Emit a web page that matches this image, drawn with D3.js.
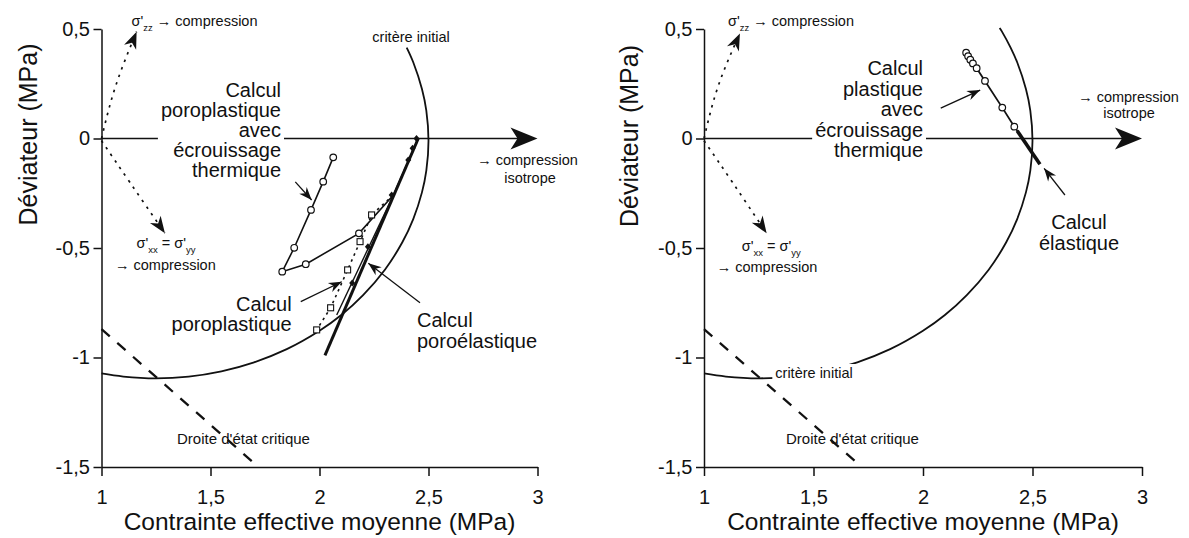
<!DOCTYPE html>
<html><head><meta charset="utf-8">
<script src="https://cdn.jsdelivr.net/npm/d3@7"></script>
<style>
html,body{margin:0;padding:0;background:#fff;}
svg{display:block;}
text{font-family:"Liberation Sans",Arial,Helvetica,sans-serif;fill:#111;}
</style></head><body>
<svg id="chart" width="1189" height="538"></svg>
<script>
// ---------------- data (MPa) ----------------
const xTicks = [1, 1.5, 2, 2.5, 3];
const xTickLabels = ["1", "1,5", "2", "2,5", "3"];
const yTicks = [-1.5, -1, -0.5, 0, 0.5];
const yTickLabels = ["-1,5", "-1", "-0,5", "0", "0,5"];

// initial yield criterion ("critère initial")
const criterionLeft = [[1.00,-1.073],[1.10,-1.087],[1.25,-1.095],[1.40,-1.087],[1.55,-1.063],[1.70,-1.022],[1.85,-0.962],[2.00,-0.878],[2.10,-0.806],[2.20,-0.715],[2.30,-0.599],[2.38,-0.474],[2.43,-0.368],[2.47,-0.246],[2.49,-0.147],[2.50,-0.01],[2.49,0.127],[2.47,0.226],[2.43,0.348],[2.40,0.415]];
const criterionRight = [[1.00,-1.073],[1.10,-1.087],[1.25,-1.095],[1.40,-1.087],[1.55,-1.063],[1.70,-1.022],[1.85,-0.962],[2.00,-0.878],[2.10,-0.806],[2.20,-0.715],[2.30,-0.599],[2.38,-0.474],[2.43,-0.368],[2.47,-0.246],[2.49,-0.147],[2.50,-0.01],[2.49,0.127],[2.47,0.226],[2.43,0.348],[2.40,0.415],[2.36,0.489],[2.35,0.505]];

// critical state line ("Droite d'état critique")
const criticalLine = [[1.00,-0.87],[1.72,-1.50]];

// left panel: poroelastic / poroplastic / thermal hardening calculations
const poroElasticLeft = [[2.025,-0.99],[2.453,0.0]];
const poroElasticMarks = [[2.445,0.0],[2.427,-0.045],[2.407,-0.098],[2.331,-0.258],[2.222,-0.494],[2.15,-0.66]];
const poroPlasticLink = [[2.339,-0.258],[2.079,-0.806]];
const poroPlasticSquares = [[2.339,-0.258],[2.239,-0.349],[2.186,-0.471],[2.129,-0.600],[2.051,-0.773],[1.987,-0.874]];
const thermalLeft = [[2.453,0.0],[2.339,-0.258],[2.181,-0.433],[1.937,-0.574],[1.829,-0.608],[1.884,-0.499],[1.961,-0.326],[2.017,-0.197],[2.063,-0.086]];

// right panel: plastic with thermal hardening / elastic
const thermalRight = [[2.197,0.392],[2.206,0.376],[2.216,0.360],[2.228,0.343],[2.245,0.321],[2.283,0.263],[2.362,0.141],[2.417,0.054],[2.45,0.008]];
const elasticRight = [[2.43,0.035],[2.534,-0.118]];

// stress-direction arrows (dotted) and pointer arrows, data units
const dirUpLeft = [[1.0,0.0],[1.065,0.24],[1.161,0.488]];
const dirDownLeft = [[1.0,-0.01],[1.13,-0.20],[1.291,-0.433]];
const dirUpRight = [[1.0,0.0],[1.065,0.24],[1.164,0.48]];
const dirDownRight = [[1.0,-0.01],[1.13,-0.20],[1.286,-0.433]];
const ptrThermLeft = [[1.889,-0.198],[1.964,-0.281]];
const ptrPlasticLeft = [[1.914,-0.745],[2.102,-0.654]];
const ptrElasticLeft = [[2.461,-0.750],[2.224,-0.570]];
const ptrThermRight = [[2.081,0.139],[2.261,0.221]];
const ptrElasticRight = [[2.648,-0.258],[2.553,-0.136]];

// ---------------- drawing ----------------
const svg = d3.select("#chart");
svg.append("rect").attr("width",1189).attr("height",538).attr("fill","#fff");
const defs = svg.append("defs");
function marker(id, d){
  defs.append("marker").attr("id",id).attr("markerUnits","userSpaceOnUse")
    .attr("viewBox","-20 -10 22 20").attr("markerWidth",22).attr("markerHeight",20)
    .attr("refX",0).attr("refY",0).attr("orient","auto")
    .append("path").attr("d",d).attr("fill","#111");
}
marker("headS","M0,0 L-13,-5 L-9,0 L-13,5 Z");
marker("headL","M0,0 L-17,-6.5 L-12,0 L-17,6.5 Z");

const INK = "#111";

function drawPanel(cfg){
  const g = svg.append("g");
  const x = d3.scaleLinear().domain([1,3]).range([cfg.x0, cfg.x1]);
  const y = d3.scaleLinear().domain([-1.5,0.5]).range([467,29]);
  const ox = x(1);
  const line = d3.line().x(d=>x(d[0])).y(d=>y(d[1]));
  const smooth = d3.line().x(d=>x(d[0])).y(d=>y(d[1])).curve(d3.curveCatmullRom.alpha(0.5));
  const natural = d3.line().x(d=>x(d[0])).y(d=>y(d[1])).curve(d3.curveNatural);

  // axes
  const gy = g.append("g").attr("transform",`translate(${ox},0)`)
    .call(d3.axisLeft(y).tickValues(yTicks).tickFormat((d,i)=>yTickLabels[i]).tickSize(8).tickSizeOuter(0).tickPadding(3.5));
  const gx = g.append("g").attr("transform",`translate(0,${y(-1.5)})`)
    .call(d3.axisBottom(x).tickValues(xTicks).tickFormat((d,i)=>xTickLabels[i]).tickSize(9).tickSizeOuter(0).tickPadding(14));
  [gx,gy].forEach(a=>{
    a.attr("font-family","DejaVu Sans").attr("font-size",20);
    a.selectAll("path,line").attr("stroke",INK).attr("stroke-width",1.5);
    a.selectAll("text").attr("fill",INK);
  });

  // axis titles
  g.append("text").attr("x",(x(1)+x(3))/2).attr("y",530).attr("text-anchor","middle")
    .attr("font-size",24.5).text("Contrainte effective moyenne (MPa)");
  g.append("text").attr("transform",`translate(${cfg.ytx},${cfg.yty}) rotate(-90)`)
    .attr("text-anchor","middle").attr("font-size",25).text("Déviateur (MPa)");

  // horizontal isotropic compression arrow (q = 0)
  const tip = x(3), y0 = y(0);
  g.append("line").attr("x1",ox).attr("x2",tip-18).attr("y1",y0).attr("y2",y0)
    .attr("stroke",INK).attr("stroke-width",1.5);
  g.append("path").attr("d",`M${tip},${y0} L${tip-27},${y0-11} L${tip-20},${y0} L${tip-27},${y0+11} Z`).attr("fill",INK);

  // critical state line
  g.append("path").attr("d",line(criticalLine)).attr("fill","none").attr("stroke",INK)
    .attr("stroke-width",2.3).attr("stroke-dasharray","11,10");

  // initial criterion
  g.append("path").attr("d",smooth(cfg.criterion)).attr("fill","none").attr("stroke",INK).attr("stroke-width",1.8);

  // dotted stress direction arrows
  [cfg.dirUp, cfg.dirDown].forEach(p=>{
    g.append("path").attr("d",natural(p)).attr("fill","none").attr("stroke",INK)
      .attr("stroke-width",1.7).attr("stroke-dasharray","2.5,5.5").attr("marker-end","url(#headL)");
  });

  // pointer arrows
  cfg.pointers.forEach(p=>{
    g.append("path").attr("d",line(p)).attr("fill","none").attr("stroke",INK)
      .attr("stroke-width",1.3).attr("marker-end","url(#headS)");
  });

  cfg.drawCurves(g, x, y, line);

  // text helpers
  function textBlock(lines, tx, by, dy, anchor, size, bg){
    const gg = g.append("g");
    const rect = bg ? gg.append("rect").attr("fill","#fff") : null;
    const nodes = lines.map((s,i)=>gg.append("text").attr("x",tx).attr("y",by+i*dy)
      .attr("text-anchor",anchor).attr("font-size",size).text(s));
    if(bg){
      let x0=1e9,y0b=1e9,x1=-1e9,y1=-1e9;
      nodes.forEach(n=>{const b=n.node().getBBox(); x0=Math.min(x0,b.x); y0b=Math.min(y0b,b.y); x1=Math.max(x1,b.x+b.width); y1=Math.max(y1,b.y+b.height);});
      rect.attr("x",x0-3).attr("y",y0b-1).attr("width",x1-x0+6).attr("height",y1-y0b+2);
    }
  }
  function sigmaLabel(tx, by, parts){
    const t = g.append("text").attr("x",tx).attr("y",by).attr("font-size",14.5);
    parts.forEach(p=>{
      const s = t.append("tspan").text(p[0]);
      if(p[1]==="sub") s.attr("font-size",9.5).attr("dy",5);
      if(p[1]==="up") s.attr("dy",-5);
    });
  }
  cfg.labels(textBlock, sigmaLabel, ox);
}

function circles(g, pts, x, y){
  g.selectAll(null).data(pts).enter().append("circle")
    .attr("cx",d=>x(d[0])).attr("cy",d=>y(d[1])).attr("r",3.3)
    .attr("fill","#fff").attr("stroke",INK).attr("stroke-width",1.2);
}
function squares(g, pts, x, y){
  g.selectAll(null).data(pts).enter().append("rect")
    .attr("x",d=>x(d[0])-3).attr("y",d=>y(d[1])-3).attr("width",6).attr("height",6)
    .attr("fill","#fff").attr("stroke",INK).attr("stroke-width",1.1);
}

// ---- left panel ----
drawPanel({
  x0:101.5, x1:537.5, ytx:36.5, yty:134.5,
  criterion: criterionLeft,
  dirUp: dirUpLeft, dirDown: dirDownLeft,
  pointers: [ptrThermLeft, ptrPlasticLeft, ptrElasticLeft],
  drawCurves(g, x, y, line){
    g.append("path").attr("d",line(poroPlasticLink)).attr("fill","none").attr("stroke",INK).attr("stroke-width",1.4);
    g.append("path").attr("d",line(poroPlasticSquares)).attr("fill","none").attr("stroke",INK)
      .attr("stroke-width",1.6).attr("stroke-dasharray","2.5,4");
    g.append("path").attr("d",line(poroElasticLeft)).attr("fill","none").attr("stroke",INK).attr("stroke-width",3);
    g.append("path").attr("d",line(thermalLeft)).attr("fill","none").attr("stroke",INK).attr("stroke-width",1.6);
    g.selectAll(null).data(poroElasticMarks).enter().append("path")
      .attr("d",d=>`M${x(d[0])},${y(d[1])-3.5} l3,3.5 l-3,3.5 l-3,-3.5 Z`).attr("fill",INK);
    squares(g, poroPlasticSquares.slice(1), x, y);
    circles(g, thermalLeft.slice(2), x, y);
  },
  labels(block, sigma, ox){
    block(["Calcul","poroplastique","avec","écrouissage","thermique"], ox+179.5, 96.7, 20, "end", 20, true);
    block(["Calcul","poroplastique"], ox+190.2, 310.5, 20.5, "end", 20, false);
    block(["Calcul","poroélastique"], ox+315.5, 326.7, 21.3, "start", 20, false);
    block(["critère initial"], ox+309.5, 41.7, 0, "middle", 14.5, false);
    block(["→ compression"], ox+426, 165, 0, "middle", 14.5, false);
    block(["isotrope"], ox+428.5, 183, 0, "middle", 14.5, false);
    block(["Droite d'état critique"], ox+75.5, 444, 0, "start", 15, false);
    sigma(ox+30, 26, [["σ'"],["zz","sub"],[" → compression","up"]]);
    sigma(ox+35, 248, [["σ'"],["xx","sub"],[" = σ'","up"],["yy","sub"]]);
    block(["→ compression"], ox+13.5, 270, 0, "start", 14.5, false);
  }
});

// ---- right panel ----
drawPanel({
  x0:704, x1:1142, ytx:637.5, yty:136,
  criterion: criterionRight,
  dirUp: dirUpRight, dirDown: dirDownRight,
  pointers: [ptrThermRight, ptrElasticRight],
  drawCurves(g, x, y, line){
    g.append("path").attr("d",line(thermalRight)).attr("fill","none").attr("stroke",INK).attr("stroke-width",1.8);
    g.append("path").attr("d",line(elasticRight)).attr("fill","none").attr("stroke",INK).attr("stroke-width",3.6);
    circles(g, thermalRight.slice(0,-1), x, y);
  },
  labels(block, sigma, ox){
    block(["Calcul","plastique","avec","écrouissage","thermique"], ox+219, 75, 20.5, "end", 20, true);
    block(["→ compression"], ox+424.5, 101.7, 0, "middle", 14.5, false);
    block(["isotrope"], ox+425, 118, 0, "middle", 14.5, false);
    block(["Calcul","élastique"], ox+375, 229, 21, "middle", 20, false);
    block(["critère initial"], ox+110, 378, 0, "middle", 14.5, true);
    block(["Droite d'état critique"], ox+82, 444, 0, "start", 15, false);
    sigma(ox+24, 26, [["σ'"],["zz","sub"],[" → compression","up"]]);
    sigma(ox+37.7, 251, [["σ'"],["xx","sub"],[" = σ'","up"],["yy","sub"]]);
    block(["→ compression"], ox+12.7, 272, 0, "start", 14.5, false);
  }
});
</script>
</body></html>
